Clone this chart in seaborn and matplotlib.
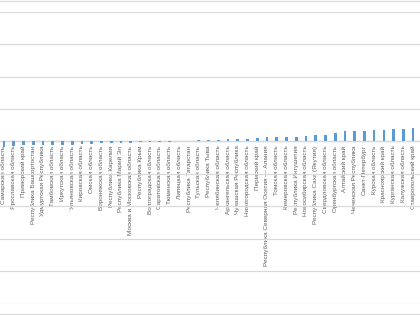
import matplotlib
matplotlib.use("Agg")
import matplotlib.pyplot as plt
from matplotlib.lines import Line2D
import seaborn as sns
import pandas as pd

regions = [
    "Самарская область", "Ярославская область", "Приморский край",
    "Республика Башкортостан", "Удмуртская Республика", "Тамбовская область",
    "Иркутская область", "Ульяновская область", "Кировская область",
    "Омская область", "Воронежская область", "Республика Карелия",
    "Республика Марий Эл", "Москва и Московская область", "Республика Крым",
    "Волгоградская область", "Саратовская область", "Тюменская область",
    "Липецкая область", "Республика Татарстан", "Тульская область",
    "Республика Тыва", "Челябинская область", "Архангельская область",
    "Чувашская Республика", "Нижегородская область", "Пермский край",
    "Республика Северная Осетия — Алания", "Томская область",
    "Кемеровская область", "Республика Ингушетия", "Новосибирская область",
    "Республика Саха (Якутия)", "Свердловская область", "Оренбургская область",
    "Алтайский край", "Чеченская Республика", "Санкт-Петербург",
    "Курская область", "Красноярский край", "Курганская область",
    "Калужская область", "Ставропольский край",
]
values = [
    -1.85, -1.3, -1.2, -1.2, -1.05, -1.0, -1.0, -0.98, -0.85, -0.8,
    -0.65, -0.55, -0.52, -0.5, -0.3, -0.1, -0.08, -0.05, -0.03, 0.02,
    0.35, 0.5, 0.55, 0.6, 0.7, 0.8, 1.0, 1.2, 1.25, 1.3,
    1.5, 1.55, 1.85, 2.05, 2.55, 3.05, 3.1, 3.1, 3.6, 3.6,
    3.9, 3.9, 4.1,
]
grid_ticks = [-50, -40, -30, -20, -10, 0, 10, 20, 30, 40]

df = pd.DataFrame({"region": regions, "value": values})

fig = plt.figure(figsize=(4.2, 3.15), dpi=100)
ax = fig.add_axes([0, 0.0365, 1, 0.9265])

sns.barplot(data=df, x="region", y="value", color="#5B9BD5", saturation=1,
            width=0.28, ax=ax, order=regions)

ax.set_xlim(-0.41, 42.71)
ax.set_ylim(-50, 40)
ax.set_yticks(grid_ticks)
ax.set_yticklabels([])
ax.tick_params(axis="y", length=0)
ax.yaxis.grid(True, color="#D9D9D9", linewidth=0.9)
ax.set_axisbelow(True)
ax.set_xlabel("")
ax.set_ylabel("")

for s in ["top", "right", "left"]:
    ax.spines[s].set_visible(False)
ax.spines["bottom"].set_position(("data", 0))
ax.spines["bottom"].set_color("#BFBFBF")
ax.spines["bottom"].set_linewidth(0.9)
ax.spines["bottom"].set_zorder(0.5)

ax.tick_params(axis="x", length=0, pad=3, labelsize=4.6, labelcolor="#606060")
for lbl in ax.get_xticklabels():
    lbl.set_rotation(90)
    lbl.set_fontfamily("Liberation Sans")
    lbl.set_va("top")
    lbl.set_ha("center")

for yf in (0.9968, 0.0032):
    fig.add_artist(Line2D([0, 1], [yf, yf], transform=fig.transFigure,
                          color="#D9D9D9", linewidth=0.9))

fig.savefig("out.png", dpi=100)
